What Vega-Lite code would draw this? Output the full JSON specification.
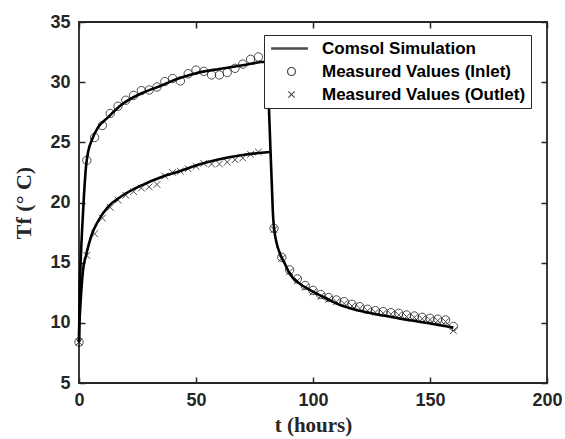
{
  "$schema": "https://vega.github.io/schema/vega-lite/v6.json",
  "width": 468,
  "height": 361,
  "autosize": "none",
  "padding": {"left": 79, "top": 22, "right": 18, "bottom": 56},
  "background": "white",
  "config": {
    "view": {"stroke": "#262626", "strokeWidth": 1.8},
    "axis": {
      "grid": false,
      "domain": false,
      "offset": -6,
      "ticks": true,
      "tickColor": "#262626",
      "tickWidth": 1.5,
      "tickSize": 6,
      "labelFlush": false,
      "labelFont": "Liberation Sans",
      "labelFontWeight": "bold",
      "labelFontSize": 18,
      "labelColor": "#262626",
      "titleFont": "Liberation Serif",
      "titleFontWeight": "bold",
      "titleFontSize": 21,
      "titleColor": "#262626"
    }
  },
  "datasets": {
    "sim": [
      {"curve": "in", "t": 0, "T": 8.4}, {"curve": "in", "t": 0.3, "T": 12.5}, {"curve": "in", "t": 0.8, "T": 15.5},
      {"curve": "in", "t": 1.4, "T": 18}, {"curve": "in", "t": 2.1, "T": 20.5}, {"curve": "in", "t": 3, "T": 23},
      {"curve": "in", "t": 4, "T": 24.3}, {"curve": "in", "t": 5.5, "T": 25.2}, {"curve": "in", "t": 8, "T": 26.2},
      {"curve": "in", "t": 12.5, "T": 27.1}, {"curve": "in", "t": 18, "T": 28.1}, {"curve": "in", "t": 27, "T": 29.1},
      {"curve": "in", "t": 35, "T": 29.7}, {"curve": "in", "t": 41, "T": 30.2}, {"curve": "in", "t": 50, "T": 30.75},
      {"curve": "in", "t": 60, "T": 31.1}, {"curve": "in", "t": 70, "T": 31.4}, {"curve": "in", "t": 80, "T": 31.7},
      {"curve": "in", "t": 80.6, "T": 30}, {"curve": "in", "t": 81.2, "T": 27.7}, {"curve": "in", "t": 81.8, "T": 24.5},
      {"curve": "in", "t": 82.4, "T": 21.5}, {"curve": "in", "t": 82.9, "T": 19}, {"curve": "in", "t": 83.4, "T": 17.8},
      {"curve": "in", "t": 84.5, "T": 16.6}, {"curve": "in", "t": 86, "T": 15.7}, {"curve": "in", "t": 88, "T": 14.9},
      {"curve": "in", "t": 90, "T": 14.1}, {"curve": "in", "t": 94, "T": 13.3}, {"curve": "in", "t": 99, "T": 12.7},
      {"curve": "in", "t": 106, "T": 12.0}, {"curve": "in", "t": 112, "T": 11.45}, {"curve": "in", "t": 119, "T": 11.05},
      {"curve": "in", "t": 126, "T": 10.75}, {"curve": "in", "t": 133, "T": 10.5}, {"curve": "in", "t": 140, "T": 10.25},
      {"curve": "in", "t": 150, "T": 9.95}, {"curve": "in", "t": 160, "T": 9.6},
      {"curve": "out", "t": 0, "T": 8.4}, {"curve": "out", "t": 0.1, "T": 9.5}, {"curve": "out", "t": 0.4, "T": 10.8},
      {"curve": "out", "t": 1, "T": 12.7}, {"curve": "out", "t": 1.8, "T": 14.5}, {"curve": "out", "t": 3, "T": 15.6},
      {"curve": "out", "t": 5.4, "T": 17.3}, {"curve": "out", "t": 8, "T": 18.4}, {"curve": "out", "t": 12.5, "T": 19.65},
      {"curve": "out", "t": 18, "T": 20.5}, {"curve": "out", "t": 27, "T": 21.45}, {"curve": "out", "t": 35, "T": 22.1},
      {"curve": "out", "t": 43, "T": 22.6}, {"curve": "out", "t": 52, "T": 23.2}, {"curve": "out", "t": 60, "T": 23.6},
      {"curve": "out", "t": 70, "T": 23.95}, {"curve": "out", "t": 81.6, "T": 24.2}
    ],
    "meas": [
      {"series": "Measured Values (Inlet)", "t": 0, "T": 8.4},
      {"series": "Measured Values (Inlet)", "t": 3.33, "T": 23.5},
      {"series": "Measured Values (Inlet)", "t": 6.67, "T": 25.4},
      {"series": "Measured Values (Inlet)", "t": 10, "T": 26.4},
      {"series": "Measured Values (Inlet)", "t": 13.33, "T": 27.4},
      {"series": "Measured Values (Inlet)", "t": 16.67, "T": 28.0},
      {"series": "Measured Values (Inlet)", "t": 20, "T": 28.5},
      {"series": "Measured Values (Inlet)", "t": 23.33, "T": 28.9},
      {"series": "Measured Values (Inlet)", "t": 26.67, "T": 29.3},
      {"series": "Measured Values (Inlet)", "t": 30, "T": 29.35},
      {"series": "Measured Values (Inlet)", "t": 33.33, "T": 29.6},
      {"series": "Measured Values (Inlet)", "t": 36.67, "T": 30.05},
      {"series": "Measured Values (Inlet)", "t": 40, "T": 30.3},
      {"series": "Measured Values (Inlet)", "t": 43.33, "T": 30.1},
      {"series": "Measured Values (Inlet)", "t": 46.67, "T": 30.7},
      {"series": "Measured Values (Inlet)", "t": 50, "T": 31.0},
      {"series": "Measured Values (Inlet)", "t": 53.33, "T": 30.9},
      {"series": "Measured Values (Inlet)", "t": 56.67, "T": 30.6},
      {"series": "Measured Values (Inlet)", "t": 60, "T": 30.6},
      {"series": "Measured Values (Inlet)", "t": 63.33, "T": 30.8},
      {"series": "Measured Values (Inlet)", "t": 66.67, "T": 31.15},
      {"series": "Measured Values (Inlet)", "t": 70, "T": 31.5},
      {"series": "Measured Values (Inlet)", "t": 73.33, "T": 31.9},
      {"series": "Measured Values (Inlet)", "t": 76.67, "T": 32.1},
      {"series": "Measured Values (Inlet)", "t": 83.33, "T": 17.85},
      {"series": "Measured Values (Inlet)", "t": 86.67, "T": 15.45},
      {"series": "Measured Values (Inlet)", "t": 90, "T": 14.4},
      {"series": "Measured Values (Inlet)", "t": 93.33, "T": 13.65},
      {"series": "Measured Values (Inlet)", "t": 96.67, "T": 13.1},
      {"series": "Measured Values (Inlet)", "t": 100, "T": 12.7},
      {"series": "Measured Values (Inlet)", "t": 103.33, "T": 12.35},
      {"series": "Measured Values (Inlet)", "t": 106.67, "T": 12.1},
      {"series": "Measured Values (Inlet)", "t": 110, "T": 11.9},
      {"series": "Measured Values (Inlet)", "t": 113.33, "T": 11.76},
      {"series": "Measured Values (Inlet)", "t": 116.67, "T": 11.54},
      {"series": "Measured Values (Inlet)", "t": 120, "T": 11.34},
      {"series": "Measured Values (Inlet)", "t": 123.33, "T": 11.13},
      {"series": "Measured Values (Inlet)", "t": 126.67, "T": 11.01},
      {"series": "Measured Values (Inlet)", "t": 130, "T": 10.93},
      {"series": "Measured Values (Inlet)", "t": 133.33, "T": 10.84},
      {"series": "Measured Values (Inlet)", "t": 136.67, "T": 10.79},
      {"series": "Measured Values (Inlet)", "t": 140, "T": 10.65},
      {"series": "Measured Values (Inlet)", "t": 143.33, "T": 10.57},
      {"series": "Measured Values (Inlet)", "t": 146.67, "T": 10.46},
      {"series": "Measured Values (Inlet)", "t": 150, "T": 10.38},
      {"series": "Measured Values (Inlet)", "t": 153.33, "T": 10.3},
      {"series": "Measured Values (Inlet)", "t": 156.67, "T": 10.24},
      {"series": "Measured Values (Inlet)", "t": 160, "T": 9.7},
      {"series": "Measured Values (Outlet)", "t": 0, "T": 8.4},
      {"series": "Measured Values (Outlet)", "t": 3.33, "T": 15.6},
      {"series": "Measured Values (Outlet)", "t": 6.67, "T": 17.4},
      {"series": "Measured Values (Outlet)", "t": 10, "T": 18.7},
      {"series": "Measured Values (Outlet)", "t": 13.33, "T": 19.6},
      {"series": "Measured Values (Outlet)", "t": 16.67, "T": 20.2},
      {"series": "Measured Values (Outlet)", "t": 20, "T": 20.6},
      {"series": "Measured Values (Outlet)", "t": 23.33, "T": 20.9},
      {"series": "Measured Values (Outlet)", "t": 26.67, "T": 21.2},
      {"series": "Measured Values (Outlet)", "t": 30, "T": 21.3},
      {"series": "Measured Values (Outlet)", "t": 33.33, "T": 21.5},
      {"series": "Measured Values (Outlet)", "t": 36.67, "T": 22.2},
      {"series": "Measured Values (Outlet)", "t": 40, "T": 22.5},
      {"series": "Measured Values (Outlet)", "t": 43.33, "T": 22.6},
      {"series": "Measured Values (Outlet)", "t": 46.67, "T": 22.8},
      {"series": "Measured Values (Outlet)", "t": 50, "T": 23.0},
      {"series": "Measured Values (Outlet)", "t": 53.33, "T": 23.25},
      {"series": "Measured Values (Outlet)", "t": 56.67, "T": 23.2},
      {"series": "Measured Values (Outlet)", "t": 60, "T": 23.2},
      {"series": "Measured Values (Outlet)", "t": 63.33, "T": 23.35},
      {"series": "Measured Values (Outlet)", "t": 66.67, "T": 23.55},
      {"series": "Measured Values (Outlet)", "t": 70, "T": 23.7},
      {"series": "Measured Values (Outlet)", "t": 73.33, "T": 24.0},
      {"series": "Measured Values (Outlet)", "t": 76.67, "T": 24.2},
      {"series": "Measured Values (Outlet)", "t": 83.33, "T": 17.75},
      {"series": "Measured Values (Outlet)", "t": 86.67, "T": 15.35},
      {"series": "Measured Values (Outlet)", "t": 90, "T": 14.25},
      {"series": "Measured Values (Outlet)", "t": 93.33, "T": 13.5},
      {"series": "Measured Values (Outlet)", "t": 96.67, "T": 12.95},
      {"series": "Measured Values (Outlet)", "t": 100, "T": 12.55},
      {"series": "Measured Values (Outlet)", "t": 103.33, "T": 12.2},
      {"series": "Measured Values (Outlet)", "t": 106.67, "T": 11.95},
      {"series": "Measured Values (Outlet)", "t": 110, "T": 11.75},
      {"series": "Measured Values (Outlet)", "t": 113.33, "T": 11.6},
      {"series": "Measured Values (Outlet)", "t": 116.67, "T": 11.4},
      {"series": "Measured Values (Outlet)", "t": 120, "T": 11.2},
      {"series": "Measured Values (Outlet)", "t": 123.33, "T": 11.0},
      {"series": "Measured Values (Outlet)", "t": 126.67, "T": 10.88},
      {"series": "Measured Values (Outlet)", "t": 130, "T": 10.8},
      {"series": "Measured Values (Outlet)", "t": 133.33, "T": 10.72},
      {"series": "Measured Values (Outlet)", "t": 136.67, "T": 10.66},
      {"series": "Measured Values (Outlet)", "t": 140, "T": 10.52},
      {"series": "Measured Values (Outlet)", "t": 143.33, "T": 10.45},
      {"series": "Measured Values (Outlet)", "t": 146.67, "T": 10.34},
      {"series": "Measured Values (Outlet)", "t": 150, "T": 10.26},
      {"series": "Measured Values (Outlet)", "t": 153.33, "T": 10.18},
      {"series": "Measured Values (Outlet)", "t": 156.67, "T": 10.1},
      {"series": "Measured Values (Outlet)", "t": 160, "T": 9.35}
    ]
  },
  "layer": [
    {
      "data": {"name": "sim"},
      "mark": {"type": "line", "color": "black", "strokeWidth": 2.6, "interpolate": "monotone"},
      "encoding": {
        "x": {"field": "t", "type": "quantitative", "scale": {"domain": [0, 200], "nice": false, "zero": false, "padding": 0},
              "axis": {"orient": "bottom", "values": [0, 50, 100, 150, 200], "title": "t (hours)", "labelPadding": 8, "titlePadding": 5}},
        "y": {"field": "T", "type": "quantitative", "scale": {"domain": [5, 35], "nice": false, "zero": false, "padding": 0},
              "axis": {"orient": "left", "values": [5, 10, 15, 20, 25, 30, 35], "title": "Tf (° C)", "titleFontSize": 22, "labelPadding": 9, "titlePadding": 14}},
        "detail": {"field": "curve"}
      }
    },
    {
      "data": {"name": "meas"},
      "mark": {"type": "point", "filled": false, "color": "black", "strokeWidth": 1, "size": 70},
      "encoding": {
        "x": {"field": "t", "type": "quantitative", "scale": {"domain": [0, 200], "nice": false, "zero": false, "padding": 0},
              "axis": {"orient": "top", "values": [0, 50, 100, 150, 200], "labels": false, "title": null}},
        "y": {"field": "T", "type": "quantitative", "scale": {"domain": [5, 35], "nice": false, "zero": false, "padding": 0},
              "axis": {"orient": "right", "values": [5, 10, 15, 20, 25, 30, 35], "labels": false, "title": null}},
        "shape": {
          "field": "series", "type": "nominal",
          "scale": {
            "domain": ["Comsol Simulation", "Measured Values (Inlet)", "Measured Values (Outlet)"],
            "range": ["M-5.1,-0.14H4.1M-5.1,0H4.1M-5.1,0.14H4.1", "circle", "M-0.8,-0.8L0.8,0.8M-0.8,0.8L0.8,-0.8"]
          },
          "legend": {
            "title": null,
            "orient": "none",
            "legendX": 185,
            "legendY": 13,
            "fillColor": "white",
            "strokeColor": "#262626",
            "padding": 5,
            "symbolSize": 64,
            "symbolStrokeColor": "black",
            "symbolStrokeWidth": 1.2,
            "symbolOffset": 14,
            "labelOffset": 22,
            "labelFont": "Liberation Sans",
            "labelFontWeight": "bold",
            "labelFontSize": 17,
            "labelColor": "black",
            "rowPadding": 5,
            "labelLimit": 400
          }
        }
      }
    }
  ],
  "resolve": {"axis": {"x": "independent", "y": "independent"}}
}
